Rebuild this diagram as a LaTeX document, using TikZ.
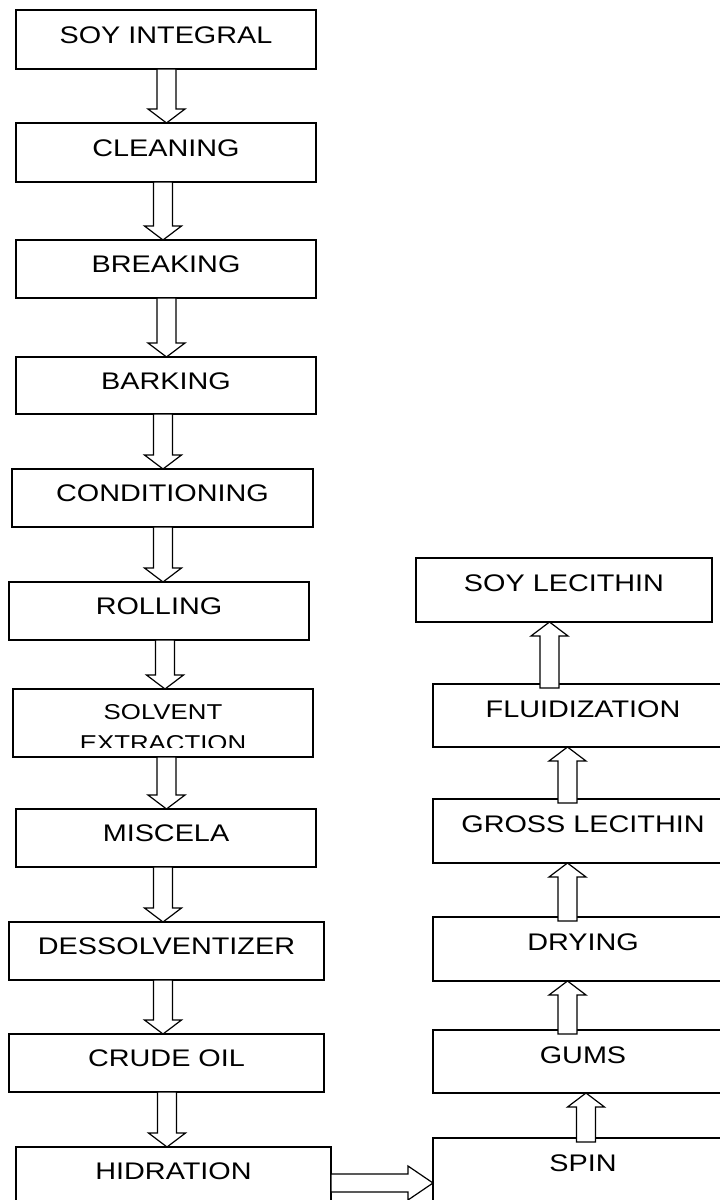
\documentclass[tikz,border=0pt]{standalone}
\usepackage{fontspec}
\setmainfont{Liberation Sans}[FakeStretch=1.2]
\usetikzlibrary{positioning, calc}

\begin{document}
\begin{tikzpicture}[
        % styles
        stage/.style={
            draw, rectangle, line width=1.6pt, inner sep=0pt, outer sep=0pt,
            minimum width=300pt, minimum height=58pt,
            font=\fontsize{24pt}{28pt}\selectfont,
            text height=17.2pt, text depth=10pt
        },
        product/.style={stage, minimum height=64pt, text depth=14pt},
        fatarrow/.style={draw, fill=white, line width=1.2pt, line join=miter}
    ]

    % page frame 720 x 1200
    \path[use as bounding box, fill=white] (0,0) rectangle (720pt,-1200pt);
    \clip (0,0) rectangle (720pt,-1200pt);

    % 1. left column: from the soy beans to the hydration
    \node (soy) [stage, minimum height=59pt] at (166pt,-39.5pt) {SOY INTEGRAL};
    \node (cleaning) [stage, below=54pt of soy, minimum height=59pt] {CLEANING};
    \node (breaking) [stage, below=58pt of cleaning] {BREAKING};
    \node (barking) [stage, below=59pt of breaking, minimum height=57pt] {BARKING};
    \node (conditioning) [stage, below=55pt of barking, xshift=-3.5pt, minimum width=301pt] {CONDITIONING};
    \node (rolling) [stage, below=55pt of conditioning, xshift=-3.5pt] {ROLLING};
    \node (solvent) [stage, below=49pt of rolling, xshift=4pt, minimum height=68pt] {};
    \node (miscela) [stage, below=52pt of solvent, xshift=3pt] {MISCELA};
    \node (desolv) [stage, below=55pt of miscela, xshift=0.5pt, minimum width=315pt] {DESSOLVENTIZER};
    \node (crude) [stage, below=54pt of desolv, minimum width=315pt] {CRUDE OIL};
    \node (hydration) [stage, below=55pt of crude, xshift=7pt, minimum width=315pt] {HIDRATION};

    % text of the solvent box is cut off at the bottom
    \begin{scope}
        \clip (solvent.north west) rectangle ($(solvent.south east)+(0,10pt)$);
        \node (solventtext) [anchor=north, align=center, inner sep=0pt,
            font=\fontsize{21.5pt}{31pt}\selectfont] at ($(solvent.north)+(0,-15pt)$) {SOLVENT\\EXTRACTION};
    \end{scope}

    % 2. right column: from the spin up to the lecithin
    \node (spin) [product, right=102pt of hydration, yshift=6pt] {SPIN};
    \node (gums) [product, above=45pt of spin, minimum height=63pt] {GUMS};
    \node (drying) [product, above=49pt of gums] {DRYING};
    \node (gross) [product, above=54pt of drying] {GROSS LECITHIN};
    \node (fluid) [product, above=52pt of gross, minimum height=63pt] {FLUIDIZATION};
    \node (lecithin) [product, above=62pt of fluid, xshift=-19pt, minimum width=296pt] {SOY LECITHIN};

    % 3. block arrows
    % downwards, left column
    \foreach \a/\b/\dx in {soy/cleaning/0.5pt, cleaning/breaking/-3pt, breaking/barking/0.5pt,
            barking/conditioning/-3pt, conditioning/rolling/0.5pt, rolling/solvent/6pt,
            solvent/miscela/3.5pt, miscela/desolv/-3pt, desolv/crude/-3.5pt, crude/hydration/0.5pt}
    {
        \coordinate (top) at ($(\a.south)+(\dx,0)$);
        \coordinate (tip) at (top |- \b.north);
        \draw[fatarrow] ($(top)+(-9.5pt,0)$) -- ($(tip)+(-9.5pt,14pt)$) -- ++(-9pt,0) -- (tip)
            -- ($(tip)+(18.5pt,14pt)$) -- ++(-9pt,0) -- ($(top)+(9.5pt,0)$) -- cycle;
    }

    % upwards, right column
    \foreach \a/\b/\dx in {spin/gums/3pt, gums/drying/-15.5pt, drying/gross/-15.5pt,
            gross/fluid/-15.5pt, fluid/lecithin/-33.5pt}
    {
        \coordinate (base) at ($(\a.north)+(\dx,-4pt)$);
        \coordinate (tip) at (base |- \b.south);
        \draw[fatarrow] ($(base)+(-9.5pt,0)$) -- ($(tip)+(-9.5pt,-14pt)$) -- ++(-9pt,0) -- (tip)
            -- ($(tip)+(18.5pt,-14pt)$) -- ++(-9pt,0) -- ($(base)+(9.5pt,0)$) -- cycle;
    }

    % hydration -> spin
    \coordinate (start) at ($(hydration.east)+(0,-7pt)$);
    \coordinate (end) at (start -| spin.west);
    \draw[fatarrow] ($(start)+(0,9pt)$) -- ($(end)+(-25pt,9pt)$) -- ++(0,8pt) -- (end)
        -- ($(end)+(-25pt,-17pt)$) -- ++(0,8pt) -- ($(start)+(0,-9pt)$) -- cycle;

\end{tikzpicture}
\end{document}
